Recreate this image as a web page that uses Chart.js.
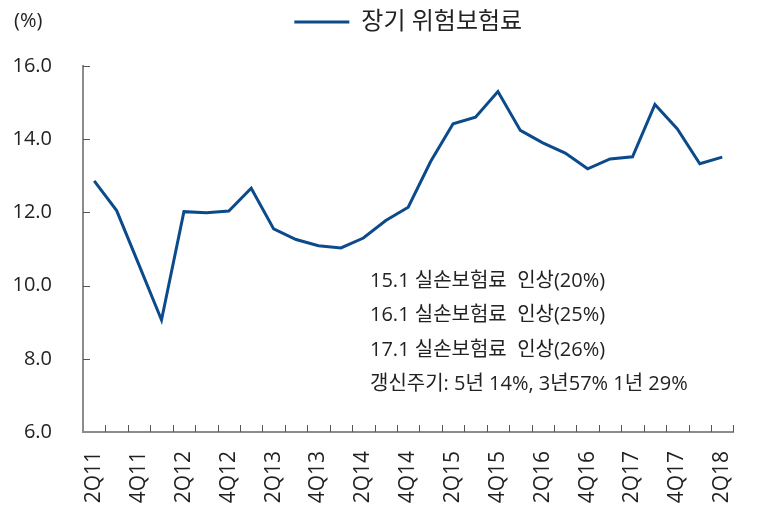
<!DOCTYPE html>
<html>
<head>
<meta charset="utf-8">
<script src="https://cdn.jsdelivr.net/npm/chart.js@4"></script>
<style>
  html, body { margin: 0; padding: 0; background: #fff; }
  #wrap { width: 767px; height: 515px; }
</style>
</head>
<body>
<div id="wrap"><canvas id="line-chart-1"></canvas></div>
<script>
var quarters = ["2Q11","3Q11","4Q11","1Q12","2Q12","3Q12","4Q12","1Q13","2Q13","3Q13","4Q13","1Q14","2Q14","3Q14","4Q14",
                "1Q15","2Q15","3Q15","4Q15","1Q16","2Q16","3Q16","4Q16","1Q17","2Q17","3Q17","4Q17","1Q18","2Q18"];
var riskPremium = [12.86, 12.05, 10.56, 9.06, 12.02, 11.99, 12.04, 12.66, 11.55, 11.26, 11.09, 11.03, 11.30, 11.78, 12.14,
                   13.39, 14.42, 14.60, 15.30, 14.24, 13.90, 13.62, 13.19, 13.46, 13.52, 14.95, 14.28, 13.33, 13.51];
var seriesName = "장기 위험보험료";
var yMin = 6, yMax = 16, yStep = 2;
var notes = [
    "15.1 실손보험료  인상(20%)",
    "16.1 실손보험료  인상(25%)",
    "17.1 실손보험료  인상(26%)",
    "갱신주기: 5년 14%, 3년57% 1년 29%"
];

var fontFamily = "'Open Sans', 'Noto Sans CJK KR', sans-serif";

// short tick marks pointing into the plot, plus unit label and notes
var extras = {
    id: "extras",
    afterDraw: function(chart) {
        var ctx = chart.ctx;
        var x = chart.scales.x, y = chart.scales.y;
        var area = chart.chartArea;
        ctx.save();
        ctx.strokeStyle = "#555";
        ctx.lineWidth = 1;
        ctx.beginPath();
        var n = quarters.length;
        for (var i = 1; i <= n; i++) {
            var px = Math.round(x.left + i * (x.right - x.left) / n) + 0.5;
            ctx.moveTo(px, area.bottom);
            ctx.lineTo(px, area.bottom - 7);
        }
        y.ticks.forEach(function(t) {
            if (t.value === yMin) return;
            var py = Math.round(y.getPixelForValue(t.value)) + 0.5;
            ctx.moveTo(area.left, py);
            ctx.lineTo(area.left + 7, py);
        });
        ctx.stroke();

        ctx.fillStyle = "#222";
        ctx.font = "20px " + fontFamily;
        ctx.textBaseline = "middle";
        ctx.textAlign = "left";
        ctx.fillText("(%)", 14, 21);

        for (var k = 0; k < notes.length; k++) {
            ctx.fillText(notes[k], 370, 281 + k * 34.5);
        }
        ctx.restore();
    }
};

new Chart(document.getElementById("line-chart-1"), {
    type: "line",
    data: {
        labels: quarters,
        datasets: [{
            label: seriesName,
            data: riskPremium,
            borderColor: "#0b4a8b",
            backgroundColor: "#0b4a8b",
            borderWidth: 3,
            pointRadius: 0,
            tension: 0,
            fill: false
        }]
    },
    options: {
        responsive: true,
        maintainAspectRatio: false,
        animation: false,
        layout: { padding: { left: 0, right: 30, top: 0, bottom: 10 } },
        plugins: {
            legend: {
                display: true,
                position: "top",
                fullSize: false,
                labels: {
                    usePointStyle: true,
                    pointStyle: "line",
                    pointStyleWidth: 55,
                    color: "#222",
                    font: { family: fontFamily, size: 24 },
                    padding: 10
                }
            },
            // empty title used as a gap between legend and plot
            title: {
                display: true,
                text: "",
                position: "top",
                weight: 500,
                fullSize: false,
                font: { size: 10 },
                padding: { top: 10, bottom: 0 }
            },
            tooltip: { enabled: false }
        },
        scales: {
            x: {
                offset: true,
                grid: { display: false, offset: true, drawTicks: false },
                border: { display: true, color: "#8c8c8c", width: 2 },
                ticks: {
                    autoSkip: false,
                    maxRotation: 90,
                    minRotation: 90,
                    padding: 19,
                    color: "#222",
                    font: { family: fontFamily, size: 21 },
                    callback: function(val, index) {
                        return index % 2 === 0 ? this.getLabelForValue(val) : "";
                    }
                },
                afterFit: function(scale) { scale.height = 73; }
            },
            y: {
                min: yMin,
                max: yMax,
                grid: { display: false, drawTicks: false },
                border: { display: true, color: "#8c8c8c", width: 2 },
                ticks: {
                    stepSize: yStep,
                    padding: 31,
                    color: "#222",
                    font: { family: fontFamily, size: 20 },
                    callback: function(v) { return v.toFixed(1); }
                },
                afterFit: function(scale) { scale.width = 83; }
            }
        }
    },
    plugins: [extras]
});
</script>
</body>
</html>
